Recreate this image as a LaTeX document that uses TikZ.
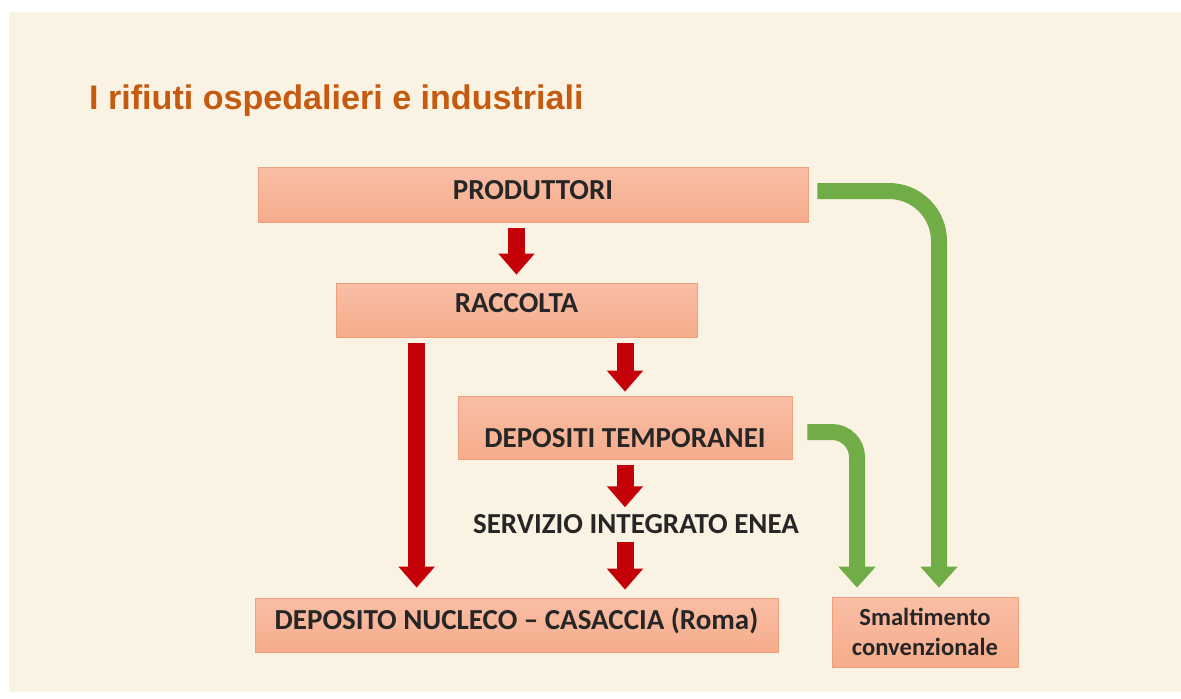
\documentclass[tikz,border=0pt]{standalone}
\usepackage{fontspec}
\setmainfont{Carlito}
\newfontfamily\titlefont{Liberation Sans}
\usetikzlibrary{arrows.meta}
\definecolor{bgcream}{RGB}{250,242,226}
\definecolor{boxtop}{RGB}{249,190,165}
\definecolor{boxbot}{RGB}{246,172,140}
\definecolor{boxline}{RGB}{238,160,125}
\definecolor{arrred}{RGB}{196,0,8}
\definecolor{arrgreen}{RGB}{112,173,71}
\definecolor{titleorange}{RGB}{197,90,17}
\begin{document}
\begin{tikzpicture}[x=0.02cm,y=-0.02cm,
		stage/.style={rectangle, draw=boxline, top color=boxtop, bottom color=boxbot, font=\fontsize{16.5}{20}\selectfont\bfseries, text=black!85},
		redarr/.style={draw=arrred, line width=0.34cm, -{Triangle[width=0.7cm,length=0.42cm]}, shorten <=0.12cm, shorten >=0.16cm},
		greenarr/.style={draw=arrgreen, line width=0.32cm, -{Triangle[width=0.72cm,length=0.42cm]}, shorten >=0.18cm}
		]
	\useasboundingbox (0,0) rectangle (1181,698);
	\fill[white] (0,0) rectangle (1181,698);
	\fill[bgcream] (9,12) rectangle (1181,692);
	\node [anchor=west, text=titleorange, font=\titlefont\fontsize{19.4}{23}\selectfont\bfseries] (title) at (83,101) {I rifiuti ospedalieri e industriali};
	% stages
	\node [stage, minimum width=11cm, minimum height=1.1cm, text height=0.37cm, text depth=0.16cm] (prod) at (533,194.5) {PRODUTTORI};
	\node [stage, minimum width=7.22cm, minimum height=1.08cm, text height=0.37cm, text depth=0.28cm] (racc) at (516.5,310) {RACCOLTA};
	\node [stage, minimum width=6.68cm, minimum height=1.26cm, text height=0.79cm, text depth=0cm] (dept) at (625,427.5) {DEPOSITI TEMPORANEI};
	\node [font=\fontsize{16.5}{20}\selectfont\bfseries, text=black!85, inner sep=1pt] (serv) at (636,524) {SERVIZIO INTEGRATO ENEA};
	\node [stage, minimum width=10.46cm, minimum height=1.08cm, text height=0.37cm, text depth=0.2cm] (depn) at (516.5,625) {DEPOSITO NUCLECO -- CASACCIA (Roma)};
	\node [stage, minimum width=3.72cm, minimum height=1.4cm, align=center, font=\fontsize{14}{17}\selectfont\bfseries] (smalt) at (925,632) {Smaltimento\\convenzionale};
	% red flow
	\draw [redarr] (racc.north |- prod.south) -- (racc.north);
	\draw [redarr, shorten >=0.2cm] ([xshift=1.62cm]racc.south west) -- ([xshift=1.62cm]racc.south west |- depn.north);
	\draw [redarr, shorten >=0.08cm] (dept.north |- racc.south) -- (dept.north);
	\draw [redarr, shorten >=0.1cm] (dept.south) -- (dept.south |- serv.north);
	\draw [redarr] (dept.south |- serv.south) -- (dept.south |- depn.north);
	% green flow
	\draw [greenarr, rounded corners=1cm] ([xshift=0.18cm,yshift=0.07cm]prod.east) -| ([xshift=0.28cm]smalt.north);
	\draw [greenarr, rounded corners=0.5cm] ([xshift=0.3cm,yshift=-0.09cm]dept.east) -| ([xshift=-1.36cm]smalt.north);
\end{tikzpicture}
\end{document}
